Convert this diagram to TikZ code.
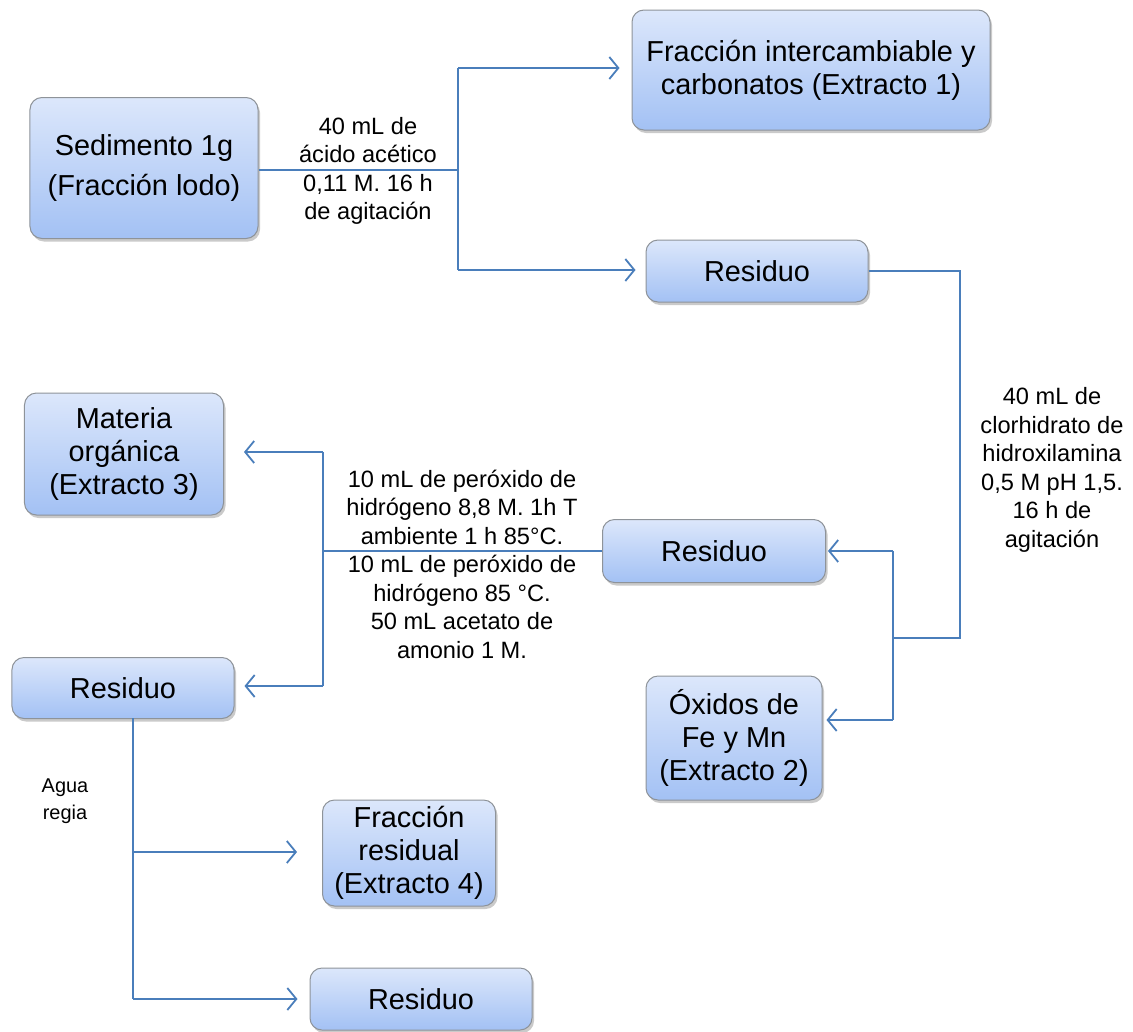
\documentclass[tikz,border=0pt]{standalone}
\usepackage{fontspec}
\setmainfont{Liberation Sans}
\usetikzlibrary{arrows.meta,shadows}
\definecolor{flowline}{HTML}{4A7EBB}
\definecolor{boxtop}{HTML}{DCE7FB}
\definecolor{boxbot}{HTML}{A3C1F4}
\definecolor{boxedge}{HTML}{8E9399}
\tikzset{
  box/.style={draw=boxedge, line width=1bp, rounded corners=12bp,
    top color=boxtop, bottom color=boxbot, align=center,
    inner sep=0pt, font=\fontsize{29}{33}\selectfont,
    drop shadow={shadow xshift=2bp, shadow yshift=-3bp, opacity=0.35, fill=black!60}},
  link/.style={draw=flowline, line width=1.8bp},
  arrow/.style={link, -{Straight Barb[length=9bp, width=22bp, line width=1.8bp]}},
  note/.style={align=center, inner sep=0pt, font=\fontsize{23.7}{28.6}\selectfont}
}
\begin{document}
\begin{tikzpicture}[x=1bp, y=-1bp]
\useasboundingbox (0,0) rectangle (1133,1032);

% process boxes
\node[box, minimum width=228bp, minimum height=141bp] (sed) at (144,168) {Sedimento 1g\\[8bp](Fracción lodo)};
\node[box, minimum width=358bp, minimum height=120bp] (ext1) at (811,70) {Fracción intercambiable y\\carbonatos (Extracto 1)};
\node[box, minimum width=222bp, minimum height=62bp] (res1) at (757,271) {Residuo};
\node[box, minimum width=223bp, minimum height=63bp] (res2) at (714,551) {Residuo};
\node[box, minimum width=176bp, minimum height=124bp] (ext2) at (734,738) {Óxidos de\\Fe y Mn\\(Extracto 2)};
\node[box, minimum width=199bp, minimum height=122bp] (ext3) at (124,454) {Materia\\orgánica\\(Extracto 3)};
\node[box, minimum width=222bp, minimum height=61bp] (res3) at (123,688) {Residuo};
\node[box, minimum width=173bp, minimum height=106bp] (ext4) at (409,853) {Fracción\\residual\\(Extracto 4)};
\node[box, minimum width=222bp, minimum height=62bp] (res4) at (421,999) {Residuo};

% branching points
\coordinate (j1) at (458,170);
\coordinate (j1a) at (458,68);
\coordinate (j1b) at (458,270);
\coordinate (j2) at (960,638);
\coordinate (j2m) at (893,638);
\coordinate (j2a) at (893,551);
\coordinate (j2b) at (893,720);
\coordinate (j3) at (323,551);
\coordinate (j3a) at (323,452);
\coordinate (j3b) at (323,686);
\coordinate (j4) at (133,718);
\coordinate (j4a) at (133,852);
\coordinate (j4b) at (133,999);

% step 1
\draw[link] (sed.east |- j1) -- (j1);
\draw[link] (j1a) -- (j1b);
\draw[arrow] (j1a) -- ([xshift=-12bp]ext1.west |- j1a);
\draw[arrow] (j1b) -- ([xshift=-10bp]res1.west |- j1b);

% step 2
\draw[link] (res1.east) -- (res1.east -| j2) -- (j2) -- (j2m);
\draw[link] (j2a) -- (j2b);
\draw[arrow] (j2a) -- ([xshift=2bp]res2.east |- j2a);
\draw[arrow] (j2b) -- ([xshift=4bp]ext2.east |- j2b);

% step 3
\draw[link] (res2.west) -- (j3);
\draw[link] (j3a) -- (j3b);
\draw[arrow] (j3a) -- ([xshift=20bp]ext3.east |- j3a);
\draw[arrow] (j3b) -- ([xshift=10bp]res3.east |- j3b);

% step 4
\draw[link] (j4) -- (j4b);
\draw[arrow] (j4a) -- ([xshift=-25bp]ext4.west |- j4a);
\draw[arrow] (j4b) -- ([xshift=-12bp]res4.west |- j4b);

% reagent notes
\node[note] (n1) at (368,171) {40 mL de\\ácido acético\\0,11 M. 16 h\\de agitación};
\node[note] (n2) at (1052,470) {40 mL de\\clorhidrato de\\hidroxilamina\\0,5 M pH 1,5.\\16 h de\\agitación};
\node[note] (n3) at (462,564) {10 mL de peróxido de\\hidrógeno 8,8 M. 1h T\\ambiente 1 h 85°C.\\10 mL de peróxido de\\hidrógeno 85 °C.\\50 mL acetato de\\amonio 1 M.};
\node[note, font=\fontsize{20}{27}\selectfont] (n4) at (65,801) {Agua\\regia};
\end{tikzpicture}
\end{document}
